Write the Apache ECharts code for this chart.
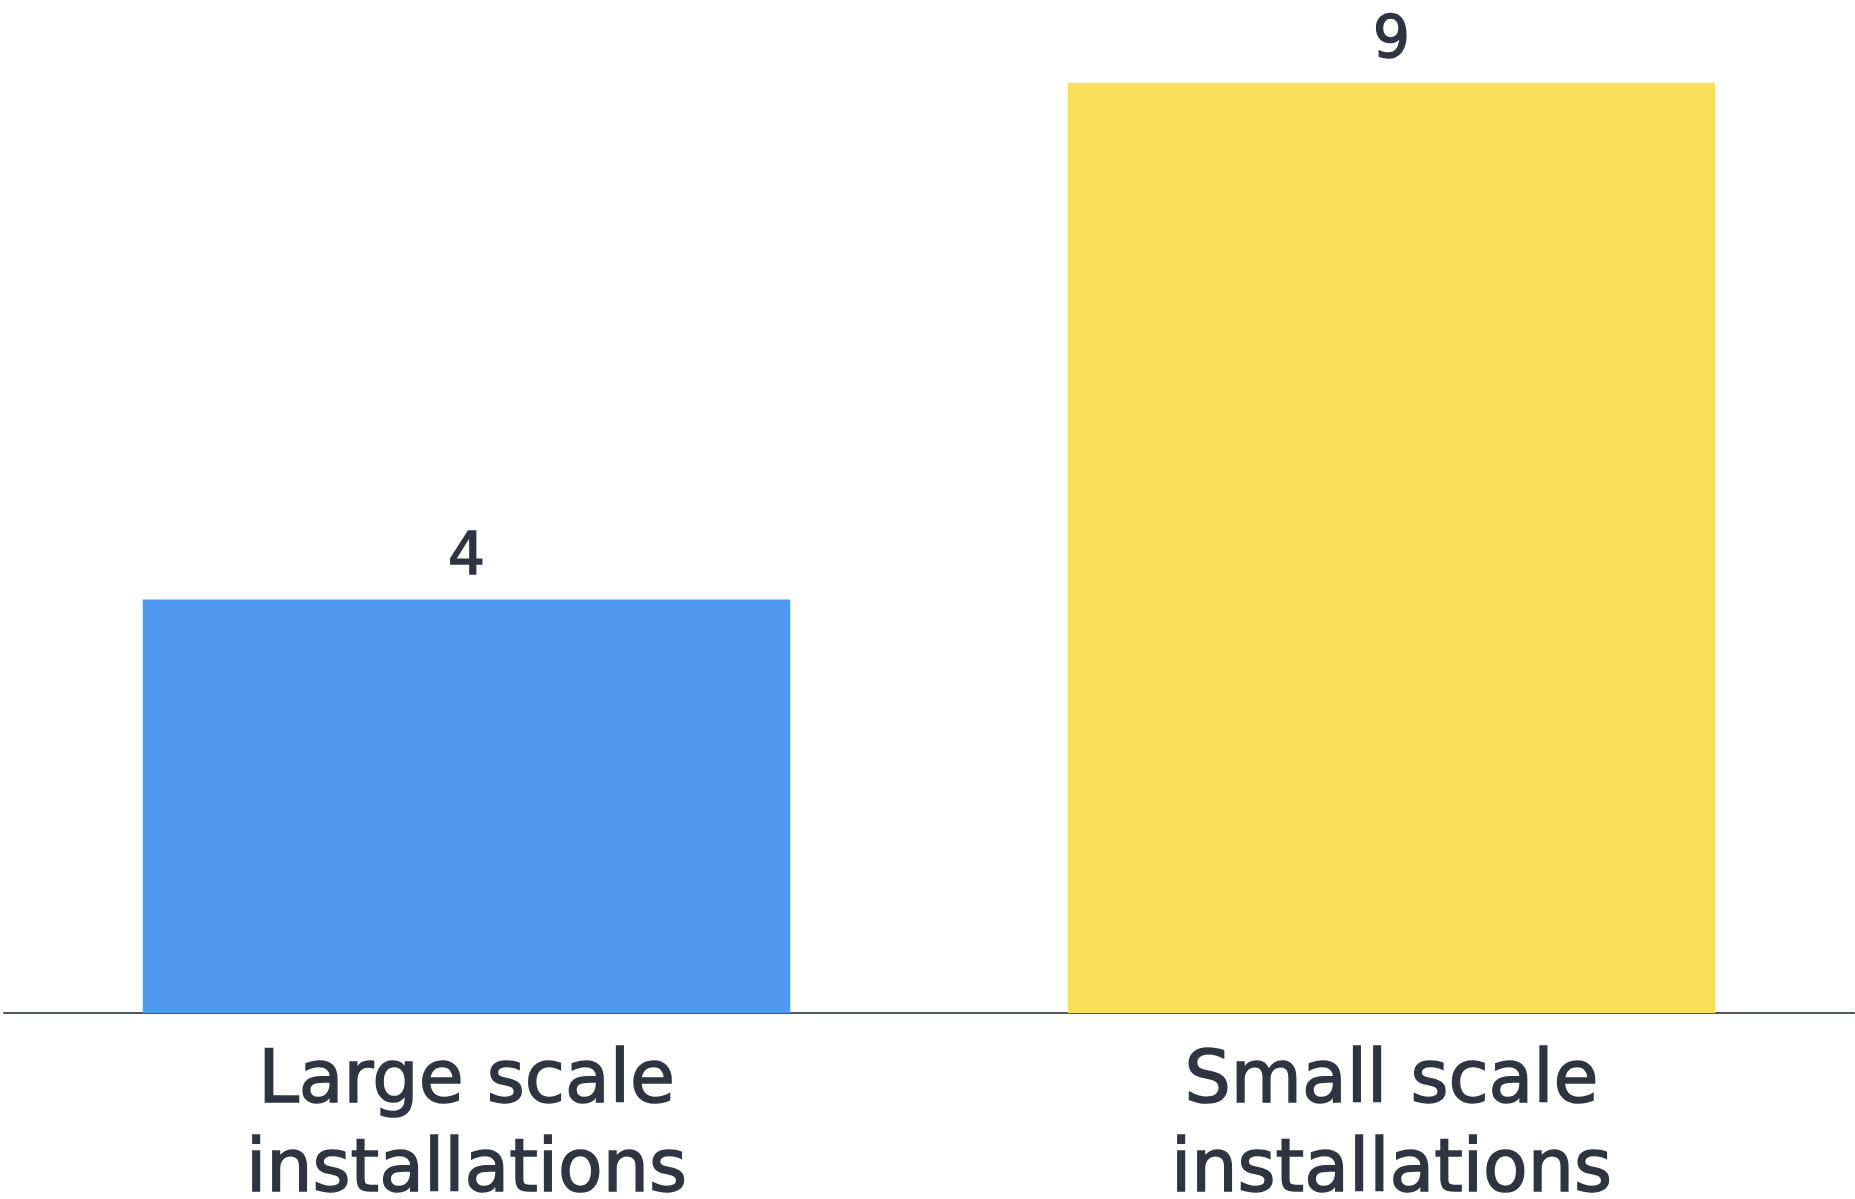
<!DOCTYPE html>
<html><head><meta charset="utf-8">
<script src="https://cdn.jsdelivr.net/npm/echarts@6/dist/echarts.min.js"></script>
<style>html,body{margin:0;padding:0;background:#fff}#c{width:1855px;height:1199px}</style>
</head><body><div id="c"></div>
<script>
const categories = ['Large scale\ninstallations', 'Small scale\ninstallations'];
const values = [4, 9];
const colors = ['#4f9aee', '#f8e05a'];

const chart = echarts.init(document.getElementById('c'));
chart.setOption({
  backgroundColor: '#ffffff',
  animation: false,
  grid: {left: 4, right: 1, top: 31, bottom: 186, containLabel: false, outerBoundsMode: 'none'},
  xAxis: {
    type: 'category', data: categories,
    axisLine: {lineStyle: {color: '#50555e', width: 2}},
    axisTick: {show: false},
    axisLabel: {color: '#2f3440', fontFamily: 'DejaVu Sans', fontSize: 73, lineHeight: 89, margin: 26, interval: 0,
      textBorderColor: '#2f3440', textBorderWidth: 1.5}
  },
  yAxis: {type: 'value', min: 0, max: 9.5, show: false, splitLine: {show: false}},
  series: [{
    type: 'bar',
    data: values.map((v, i) => ({value: v, itemStyle: {color: colors[i]}})),
    barWidth: '70%',
    label: {show: true, position: 'top', distance: 12, color: '#2f3440', fontFamily: 'DejaVu Sans', fontSize: 58,
      textBorderColor: '#2f3440', textBorderWidth: 1.5}
  }]
});
</script></body></html>
